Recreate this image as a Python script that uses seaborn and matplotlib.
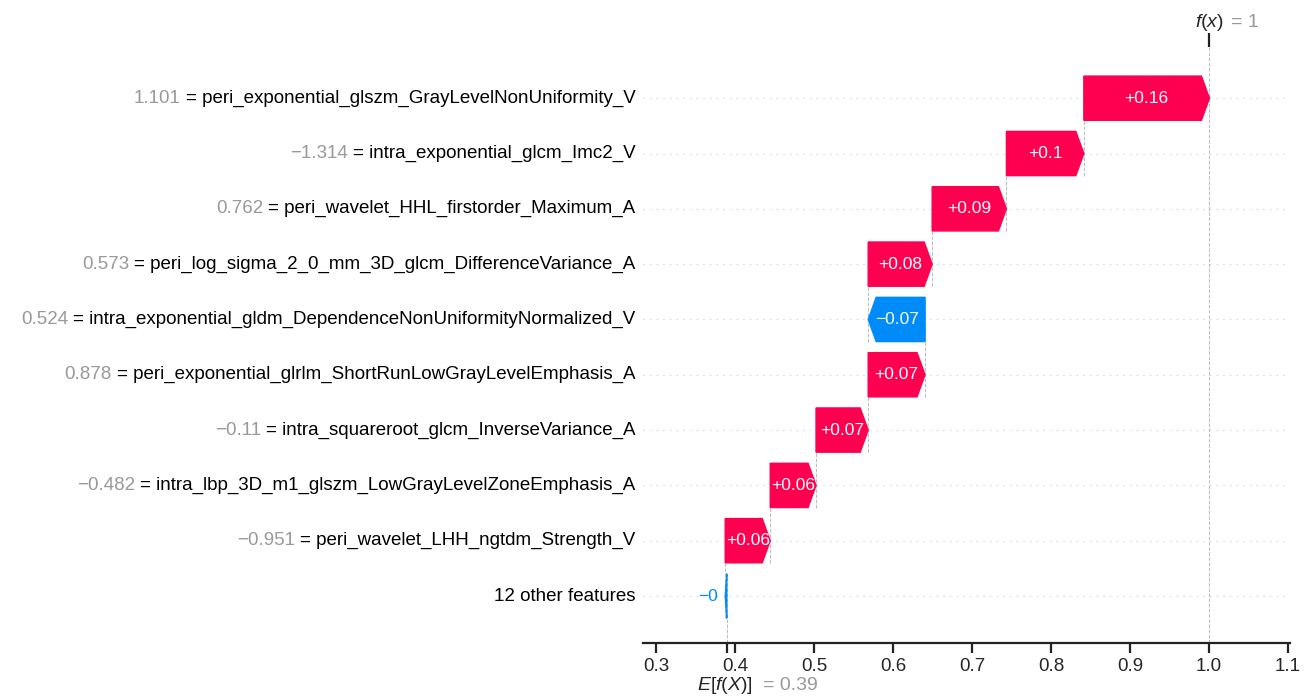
import numpy as np
import matplotlib
matplotlib.use("Agg")
import matplotlib.pyplot as plt
import matplotlib.transforms as mtransforms
import seaborn as sns

# --- data (top row first) ---
feature_names = [
    "peri_exponential_glszm_GrayLevelNonUniformity_V",
    "intra_exponential_glcm_Imc2_V",
    "peri_wavelet_HHL_firstorder_Maximum_A",
    "peri_log_sigma_2_0_mm_3D_glcm_DifferenceVariance_A",
    "intra_exponential_gldm_DependenceNonUniformityNormalized_V",
    "peri_exponential_glrlm_ShortRunLowGrayLevelEmphasis_A",
    "intra_squareroot_glcm_InverseVariance_A",
    "intra_lbp_3D_m1_glszm_LowGrayLevelZoneEmphasis_A",
    "peri_wavelet_LHH_ngtdm_Strength_V",
    "12 other features",
]
feature_values = [1.101, -1.314, 0.762, 0.573, 0.524, 0.878, -0.11, -0.482, -0.951, None]
shap_values = [0.159, 0.098, 0.094, 0.081, -0.072, 0.072, 0.066, 0.058, 0.057, -0.002]
base_value = 0.3895

RED = "#ff0051"
BLUE = "#008bfb"
GRAY = "#999999"


def fmt(v, f):
    s = (f % v)
    if "." in s:
        s = s.rstrip("0").rstrip(".")
    return s.replace("-", "\u2212")


sns.set_style("white")
plt.rcParams["font.family"] = ["Liberation Sans", "DejaVu Sans"]
plt.rcParams["mathtext.fontset"] = "custom"
plt.rcParams["mathtext.it"] = "Liberation Sans:italic"
plt.rcParams["mathtext.rm"] = "Liberation Sans"

fig = plt.figure(figsize=(13.07, 7.0), dpi=100)
ax = fig.add_axes([0.492, 0.0814, 0.495, 0.851])

n = len(shap_values)
ys = np.arange(n)[::-1]          # top row -> n-1
xmin, xmax = 0.2835, 1.1025
ax.set_xlim(xmin, xmax)
ax.set_ylim(-0.85, 9.92)

fx = base_value + sum(shap_values)

# cumulative starts, from the bottom row up
starts = np.zeros(n)
cur = base_value
for i in range(n - 1, -1, -1):
    starts[i] = cur
    cur += shap_values[i]

bar_h = 0.8
bbox = ax.get_window_extent().transformed(fig.dpi_scale_trans.inverted())
xscale = (xmax - xmin) / bbox.width
hl = 0.08 * xscale
renderer = fig.canvas.get_renderer()

for i in range(n):
    v = shap_values[i]
    x0 = starts[i]
    y = ys[i]
    col = RED if v > 0 else BLUE
    body = max(abs(v) - hl, 1e-6) * np.sign(v)
    arr = ax.arrow(x0, y, body, 0, head_length=min(abs(v), hl), color=col,
                   width=bar_h, head_width=bar_h)
    txt = ax.text(x0 + 0.5 * v, y, fmt(v, "%+0.02f"), ha="center", va="center",
                  color="white", fontsize=12.5)
    tb = txt.get_window_extent(renderer=renderer)
    ab = arr.get_window_extent(renderer=renderer)
    if tb.width > ab.width:
        txt.remove()
        if v > 0:
            ax.text(x0 + v + (5 / 72) * xscale, y, fmt(v, "%+0.02f"), ha="left",
                    va="center", color=col, fontsize=12.5)
        else:
            ax.text(x0 + v - (5 / 72) * xscale, y, fmt(v, "%+0.02f"), ha="right",
                    va="center", color=col, fontsize=12.5)

    # connector to next row
    if i > 0:
        end = x0 + v
        ax.plot([end, end], [y - 0.4, y + 1 + 0.4], color="#bbbbbb",
                linestyle="--", linewidth=0.7, zorder=-1)

# row guide lines
for y in ys:
    ax.axhline(y, color="#cccccc", lw=0.8, dashes=(1, 5), zorder=-1)

ax.axvline(base_value, 0, (0.85 + 0.4) / 10.77, color="#bbbbbb",
           linestyle="--", linewidth=0.7, zorder=-1)
ax.axvline(fx, 0, 1, color="#bbbbbb", linestyle="--", linewidth=0.7, zorder=-1)

# feature labels: grey value, black name
ax.set_yticks([])
lab_tr = mtransforms.blended_transform_factory(ax.transAxes, ax.transData)
for i in range(n):
    xoff = -0.012
    if feature_values[i] is None:
        ax.text(xoff, ys[i], feature_names[i], transform=lab_tr, ha="right",
                va="center", fontsize=13.5, color="black")
    else:
        name = ax.text(xoff, ys[i], "= " + feature_names[i], transform=lab_tr,
                       ha="right", va="center", fontsize=13.5, color="black")
        ax.annotate(fmt(feature_values[i], "%0.03f"), xy=(0, 0.5), xycoords=name,
                    xytext=(-3.5, 0), textcoords="offset points",
                    ha="right", va="center", fontsize=13.5, color=GRAY)

# axes styling
sns.despine(ax=ax, left=True, top=True, right=True)
ax.spines["bottom"].set_linewidth(1.6)
ax.spines["bottom"].set_color("#222222")
ax.set_xticks([0.3, 0.4, 0.5, 0.6, 0.7, 0.8, 0.9, 1.0, 1.1])
ax.set_xticklabels(["0.3", "0.4", "0.5", "0.6", "0.7", "0.8", "0.9", "1.0", "1.1"])
ax.tick_params(axis="x", labelsize=13.5, length=7, width=1.6, color="#222222",
               direction="out", bottom=True, pad=4)

# E[f(X)] tick on the bottom
ax2 = ax.twiny()
ax2.set_xlim(xmin, xmax)
ax2.xaxis.set_ticks_position("bottom")
ax2.set_xticks([base_value])
ax2.set_xticklabels([""])
ax2.tick_params(axis="x", length=7, width=1.6, color="#222222")
for s in ax2.spines.values():
    s.set_visible(False)
bt = mtransforms.blended_transform_factory(ax.transData, ax.transAxes)
ax.text(base_value, -0.072, "$E[f(X)]$", transform=bt + mtransforms.ScaledTranslation(
    26 / 100, 0, fig.dpi_scale_trans), ha="right", va="center", fontsize=14)
ax.text(base_value, -0.072, "= " + fmt(base_value, "%0.03f"),
        transform=bt + mtransforms.ScaledTranslation(36 / 100, 0, fig.dpi_scale_trans),
        ha="left", va="center", fontsize=14, color=GRAY)

# f(x) tick on top
ax3 = ax.twiny()
ax3.set_xlim(xmin, xmax)
ax3.xaxis.set_ticks_position("top")
ax3.set_xticks([fx])
ax3.set_xticklabels([""])
ax3.tick_params(axis="x", length=10, width=1.6, color="#222222")
for s in ax3.spines.values():
    s.set_visible(False)
ax.text(fx, 1.0 + 0.042, "$f(x)$", transform=bt, ha="center", va="center", fontsize=14)
ax.text(fx, 1.0 + 0.042, "= " + fmt(fx, "%0.03f"),
        transform=bt + mtransforms.ScaledTranslation(22 / 100, 0, fig.dpi_scale_trans),
        ha="left", va="center", fontsize=14, color=GRAY)

fig.savefig("out.png", dpi=100)
